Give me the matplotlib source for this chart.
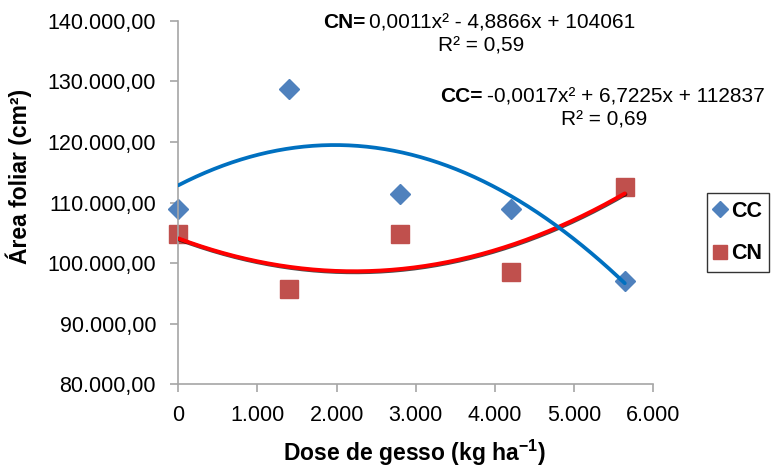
import numpy as np
import matplotlib
matplotlib.use("Agg")
import matplotlib.pyplot as plt
import matplotlib.patheffects as pe
from matplotlib.ticker import FuncFormatter

plt.rcParams['font.family'] = ['Liberation Sans', 'DejaVu Sans']
plt.rcParams['mathtext.fontset'] = 'custom'
plt.rcParams['mathtext.rm'] = 'Liberation Sans'
plt.rcParams['mathtext.bf'] = 'Liberation Sans:bold'

# data
dose = [0, 1400, 2800, 4200, 5640]
cc = [108900, 128700, 111350, 108900, 97100]
cn = [104750, 95650, 104800, 98600, 112500]

# trendline coefficients as printed on the chart (a*x^2 + b*x + c)
cc_coef = [-0.0017, 6.7225, 112837]
cn_coef = [0.0011, -4.8866, 104061]

W, H = 777, 467
fig = plt.figure(figsize=(W / 100, H / 100), dpi=100)
ax = fig.add_axes([178.3 / W, 1 - 384.3 / H, 475 / W, 363.6 / H])

ax.plot(dose, cc, linestyle='none', marker='D', ms=10.5, color='#4F81BD', zorder=2, label='CC', clip_on=False)
ax.plot(dose, cn, linestyle='none', marker='s', ms=13, color='#C0504D', zorder=2, label='CN', clip_on=False)

xs = np.linspace(dose[0], dose[-1], 200)
ax.plot(xs, np.polyval(cn_coef, xs), color='#FF0000', lw=2.9, zorder=3, solid_capstyle='round',
        path_effects=[pe.SimpleLineShadow(offset=(0.4, -0.6), shadow_color='black', alpha=0.7), pe.Normal()])
ax.plot(xs, np.polyval(cc_coef, xs), color='#0070C0', lw=2.7, zorder=4, solid_capstyle='round')

ax.set_xlim(0, 6000)
ax.set_ylim(80000, 140000)
ax.set_xticks(np.arange(0, 6001, 1000))
ax.set_yticks(np.arange(80000, 140001, 10000))

def yfmt(v, p):
    return "{:,.2f}".format(v).replace(",", "X").replace(".", ",").replace("X", ".")

def xfmt(v, p):
    return "{:,.0f}".format(v).replace(",", ".")

ax.yaxis.set_major_formatter(FuncFormatter(yfmt))
ax.xaxis.set_major_formatter(FuncFormatter(xfmt))

for s in ['top', 'right']:
    ax.spines[s].set_visible(False)
for s in ['left', 'bottom']:
    ax.spines[s].set_color('#A6A6A6')
    ax.spines[s].set_linewidth(1.2)
ax.tick_params(axis='both', colors='#A6A6A6', labelcolor='black', labelsize=15.5, length=6, width=1.2)
ax.tick_params(axis='x', pad=9)
ax.tick_params(axis='y', pad=10)

fig.text(414 / W, 1 - 453 / H, r'Dose de gesso (kg ha$^{\mathbf{-1}}$)', fontsize=16.5,
         fontweight='bold', ha='center', va='center')
fig.text(19 / W, 1 - 176 / H, 'Área foliar (cm²)', fontsize=16.5, fontweight='bold',
         rotation=90, ha='center', va='center')

# equations: bold prefix followed by regular text
r = fig.canvas.get_renderer()
eq_fs = 15

def equation(x0, y0, prefix, body):
    t = fig.text(x0 / W, 1 - y0 / H, prefix, fontsize=eq_fs, fontweight='bold', ha='left', va='center')
    bb = t.get_window_extent(renderer=r)
    fig.text((bb.x1 + 4) / W, 1 - y0 / H, body, fontsize=eq_fs, ha='left', va='center')

equation(323, 23, 'CN=', '0,0011x² - 4,8866x + 104061')
fig.text(481 / W, 1 - 46 / H, 'R² = 0,59', fontsize=eq_fs, ha='center', va='center')
equation(440, 97, 'CC=', '-0,0017x² + 6,7225x + 112837')
fig.text(604 / W, 1 - 120 / H, 'R² = 0,69', fontsize=eq_fs, ha='center', va='center')

leg = fig.legend(handles=ax.lines[:2], loc='upper left', bbox_to_anchor=(707 / W, 1 - 193 / H),
                 frameon=True, fancybox=False, edgecolor='black', handlelength=0.5,
                 handletextpad=0.25, labelspacing=1.0, borderpad=0.35, borderaxespad=0,
                 markerscale=0.8, prop={'weight': 'bold', 'size': 15.5})
leg.get_frame().set_linewidth(1.0)

fig.savefig('out.png', dpi=100)
